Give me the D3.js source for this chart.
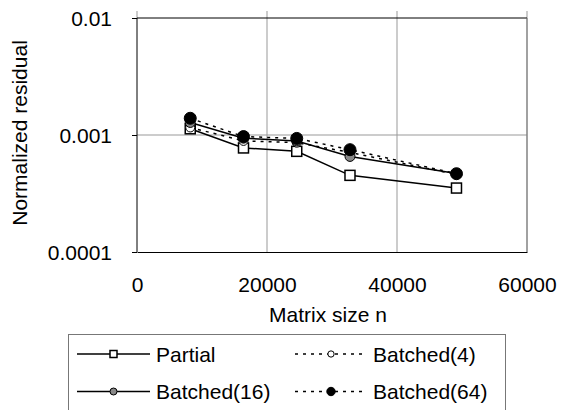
<!DOCTYPE html>
<html>
<head>
<meta charset="utf-8">
<script src="https://cdn.jsdelivr.net/npm/d3@7"></script>
<style>
  body { margin: 0; background: #fff; }
  text { font-family: "Liberation Sans", Arial, sans-serif; fill: #000; }
</style>
</head>
<body>
<script>
const sizes = [8192, 16384, 24576, 32768, 49152];
const partial = [0.00113, 0.000775, 0.000725, 0.000452, 0.000352];
const batched4 = [0.00116, 0.00089, 0.00086, 0.00071, 0.00046];
const batched16 = [0.00128, 0.00094, 0.00089, 0.000656, 0.000468];
const batched64 = [0.00139, 0.00097, 0.000935, 0.000749, 0.000467];
const xTicks = [0, 20000, 40000, 60000];
const yTicks = [0.0001, 0.001, 0.01];
const seriesNames = ['Partial', 'Batched(4)', 'Batched(16)', 'Batched(64)'];

const width = 562;
const height = 410;
const fontSize = 21;

const x = d3.scaleLinear().domain([0, 60000]).range([137, 527]);
const y = d3.scaleLog().domain([0.0001, 0.01]).range([252, 18]);

const series = [
  {name: seriesNames[0], values: partial, dash: null, marker: 'square', fill: '#fff', size: 10},
  {name: seriesNames[1], values: batched4, dash: '3,5', marker: 'circle', fill: '#fff', size: 4.5},
  {name: seriesNames[2], values: batched16, dash: null, marker: 'circle', fill: '#888', size: 5},
  {name: seriesNames[3], values: batched64, dash: '3,5', marker: 'circle', fill: '#000', size: 6}
];

const svg = d3.select('body').append('svg')
  .attr('width', width)
  .attr('height', height);

// grid
svg.selectAll('.vgrid')
  .data(xTicks)
  .enter().append('line')
  .attr('x1', d => x(d)).attr('x2', d => x(d))
  .attr('y1', 11).attr('y2', d => d === 0 ? 18 : y(0.0001))
  .attr('stroke', '#999').attr('stroke-width', 1);

svg.append('line')
  .attr('x1', x(0)).attr('x2', x(60000))
  .attr('y1', y(0.001)).attr('y2', y(0.001))
  .attr('stroke', '#999').attr('stroke-width', 1);

// frame
svg.append('line').attr('x1', x(0)).attr('x2', x(60000)).attr('y1', y(0.01)).attr('y2', y(0.01)).attr('stroke', '#000');
svg.append('line').attr('x1', x(60000)).attr('x2', x(60000)).attr('y1', y(0.01)).attr('y2', y(0.0001)).attr('stroke', '#777');

const xAxis = d3.axisBottom(x).tickValues(xTicks).tickSize(0).tickPadding(40).tickFormat(d3.format('d'));
const yAxis = d3.axisLeft(y).tickValues(yTicks).tickSize(5).tickPadding(20).tickFormat(d => d3.format('')(d));

svg.append('g')
  .attr('transform', 'translate(0,' + y(0.0001) + ')')
  .call(xAxis)
  .call(g => g.select('.domain').attr('stroke', '#000'))
  .call(g => g.selectAll('text').attr('font-size', fontSize).attr('font-family', null).attr('dy', null));

svg.append('g')
  .attr('transform', 'translate(' + x(0) + ',0)')
  .call(yAxis)
  .call(g => g.select('.domain').attr('stroke', '#000').attr('d', 'M0,' + y(0.01) + 'V' + y(0.0001)))
  .call(g => g.selectAll('line').attr('stroke', '#000'))
  .call(g => g.selectAll('text').attr('font-size', fontSize).attr('font-family', null).attr('dy', '0.35em'));

// axis titles
svg.append('text')
  .attr('transform', 'translate(27,133) rotate(-90)')
  .attr('text-anchor', 'middle')
  .attr('font-size', fontSize)
  .text('Normalized residual');

svg.append('text')
  .attr('x', 269).attr('y', 321.5)
  .attr('font-size', fontSize)
  .text('Matrix size n');

// series
const line = d3.line().x((d, i) => x(sizes[i])).y(d => y(d));

function drawMarker(g, s, cx, cy, scale) {
  if (s.marker === 'square') {
    const a = s.size * scale;
    g.append('rect')
      .attr('x', cx - a / 2).attr('y', cy - a / 2)
      .attr('width', a).attr('height', a)
      .attr('fill', s.fill).attr('stroke', '#000').attr('stroke-width', 1.5);
  } else {
    g.append('circle')
      .attr('cx', cx).attr('cy', cy).attr('r', s.size * scale)
      .attr('fill', s.fill).attr('stroke', '#000').attr('stroke-width', 1);
  }
}

series.forEach(s => {
  const g = svg.append('g');
  g.append('path')
    .attr('d', line(s.values))
    .attr('fill', 'none')
    .attr('stroke', '#000')
    .attr('stroke-width', 1.5)
    .attr('stroke-dasharray', s.dash);
  s.values.forEach((v, i) => drawMarker(g, s, x(sizes[i]), y(v), 1));
});

// legend
const legend = svg.append('g');
legend.append('rect')
  .attr('x', 68.5).attr('y', 334.5)
  .attr('width', 437).attr('height', 100)
  .attr('fill', '#fff').attr('stroke', '#777');

const legendPos = [
  {lx1: 77, lx2: 150, tx: 156, ty: 354},
  {lx1: 295, lx2: 367, tx: 373, ty: 354},
  {lx1: 77, lx2: 150, tx: 156, ty: 391.5},
  {lx1: 295, lx2: 367, tx: 373, ty: 391.5}
];

series.forEach((s, i) => {
  const p = legendPos[i];
  legend.append('line')
    .attr('x1', p.lx1).attr('x2', p.lx2)
    .attr('y1', p.ty).attr('y2', p.ty)
    .attr('stroke', '#000').attr('stroke-width', 1.5)
    .attr('stroke-dasharray', s.dash);
  drawMarker(legend, s, (p.lx1 + p.lx2) / 2, p.ty, 0.7);
  legend.append('text')
    .attr('x', p.tx).attr('y', p.ty + 7.5)
    .attr('font-size', fontSize)
    .text(s.name);
});
</script>
</body>
</html>
